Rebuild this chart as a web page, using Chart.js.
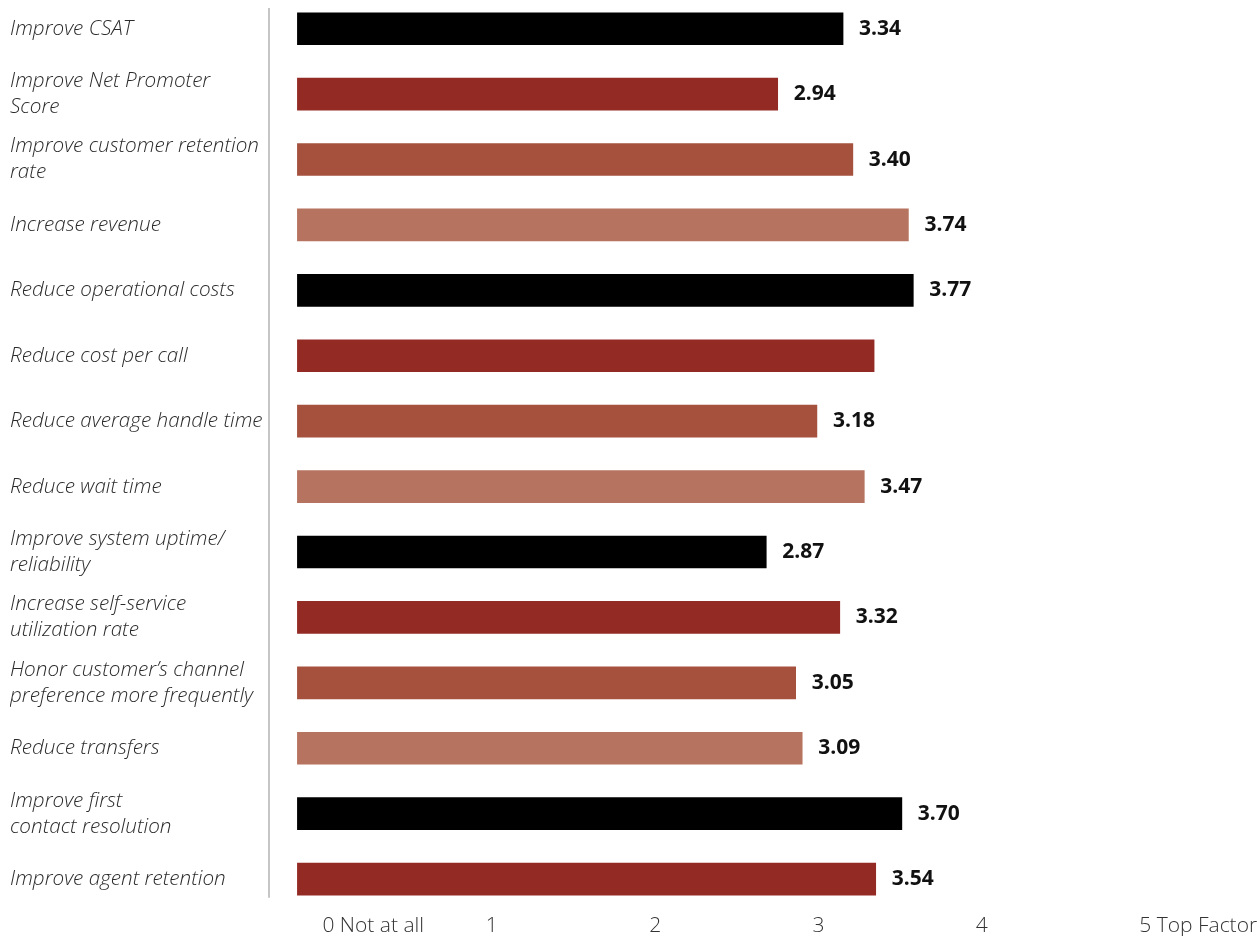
<!DOCTYPE html>
<html>
<head>
<meta charset="utf-8">
<script src="https://cdn.jsdelivr.net/npm/chart.js@4.4.1/dist/chart.umd.min.js"></script>
<style>
    html, body { margin: 0; padding: 0; background: #ffffff; overflow: hidden; }
    .chart-wrap { position: absolute; left: 0; top: -4px; width: 1258px; height: 945px; }
</style>
</head>
<body>
<div class="chart-wrap"><canvas id="goalsChart"></canvas></div>
<script>
const goalLabels = [
    'Improve CSAT',
    ['Improve Net Promoter', 'Score'],
    ['Improve customer retention', 'rate'],
    'Increase revenue',
    'Reduce operational costs',
    'Reduce cost per call',
    'Reduce average handle time',
    'Reduce wait time',
    ['Improve system uptime/', 'reliability'],
    ['Increase self-service', 'utilization rate'],
    ['Honor customer\u2019s channel', 'preference more frequently'],
    'Reduce transfers',
    ['Improve first', 'contact resolution'],
    'Improve agent retention'
];

const goalScores = [3.34, 2.94, 3.40, 3.74, 3.77, 3.53, 3.18, 3.47, 2.87, 3.32, 3.05, 3.09, 3.70, 3.54];

// bars printed without a score next to them
const unlabeledGoals = ['Reduce cost per call'];

const barColors = ['#000000', '#932a24', '#a5513e', '#b6735f'];

const scaleTicks = [0, 1, 2, 3, 4, 5];
const scaleTickLabels = ['0 Not at all', '1', '2', '3', '4', '5 Top Factor'];

const FONT = "'Open Sans', 'DejaVu Sans', sans-serif";

const scoreLabels = {
    id: 'scoreLabels',
    afterDatasetsDraw(chart) {
        const { ctx } = chart;
        const meta = chart.getDatasetMeta(0);
        ctx.save();
        ctx.font = `700 21px ${FONT}`;
        ctx.fillStyle = '#111111';
        ctx.textAlign = 'left';
        ctx.textBaseline = 'middle';
        meta.data.forEach((bar, i) => {
            const name = [].concat(goalLabels[i]).join(' ');
            if (unlabeledGoals.includes(name)) return;
            ctx.fillText(goalScores[i].toFixed(2), bar.x + 16, bar.y);
        });
        ctx.restore();
    }
};

// thin grey rule between the statements and the bars
const labelDivider = {
    id: 'labelDivider',
    beforeDatasetsDraw(chart) {
        const { ctx, chartArea } = chart;
        ctx.save();
        ctx.strokeStyle = '#c6c6c6';
        ctx.lineWidth = 2;
        ctx.beginPath();
        ctx.moveTo(chartArea.left + 1, chartArea.top + 12);
        ctx.lineTo(chartArea.left + 1, chartArea.bottom - 14);
        ctx.stroke();
        ctx.restore();
    }
};

new Chart(document.getElementById('goalsChart'), {
    type: 'bar',
    data: {
        labels: goalLabels,
        datasets: [{
            data: goalScores,
            backgroundColor: goalScores.map((_, i) => barColors[i % barColors.length]),
            borderWidth: 0,
            barThickness: 32
        }]
    },
    options: {
        indexAxis: 'y',
        responsive: true,
        maintainAspectRatio: false,
        animation: false,
        layout: { padding: { left: 10, right: 0, top: 0, bottom: 0 } },
        plugins: {
            legend: { display: false },
            tooltip: { enabled: false }
        },
        scales: {
            x: {
                min: -0.18,
                max: 5.88,
                grid: { display: false, drawTicks: false },
                border: { display: false },
                afterBuildTicks(scale) {
                    scale.ticks = scaleTicks.map((value) => ({ value }));
                },
                afterFit(scale) {
                    scale.paddingLeft = 0;
                    scale.paddingRight = 0;
                },
                ticks: {
                    align: 'start',
                    labelOffset: 25,
                    padding: 2,
                    color: '#333333',
                    font: { family: FONT, size: 21, weight: 300 },
                    callback: (value, index) => scaleTickLabels[index]
                }
            },
            y: {
                grid: { display: false, drawTicks: false },
                border: { display: false },
                afterFit(scale) {
                    scale.width = 258;
                    scale.paddingTop = 0;
                    scale.paddingBottom = 0;
                },
                ticks: {
                    crossAlign: 'far',
                    padding: 0,
                    color: '#2b2b2b',
                    font: { family: FONT, size: 20.7, style: 'italic', weight: 300, lineHeight: 1.26 }
                }
            }
        }
    },
    plugins: [labelDivider, scoreLabels]
});
</script>
</body>
</html>
